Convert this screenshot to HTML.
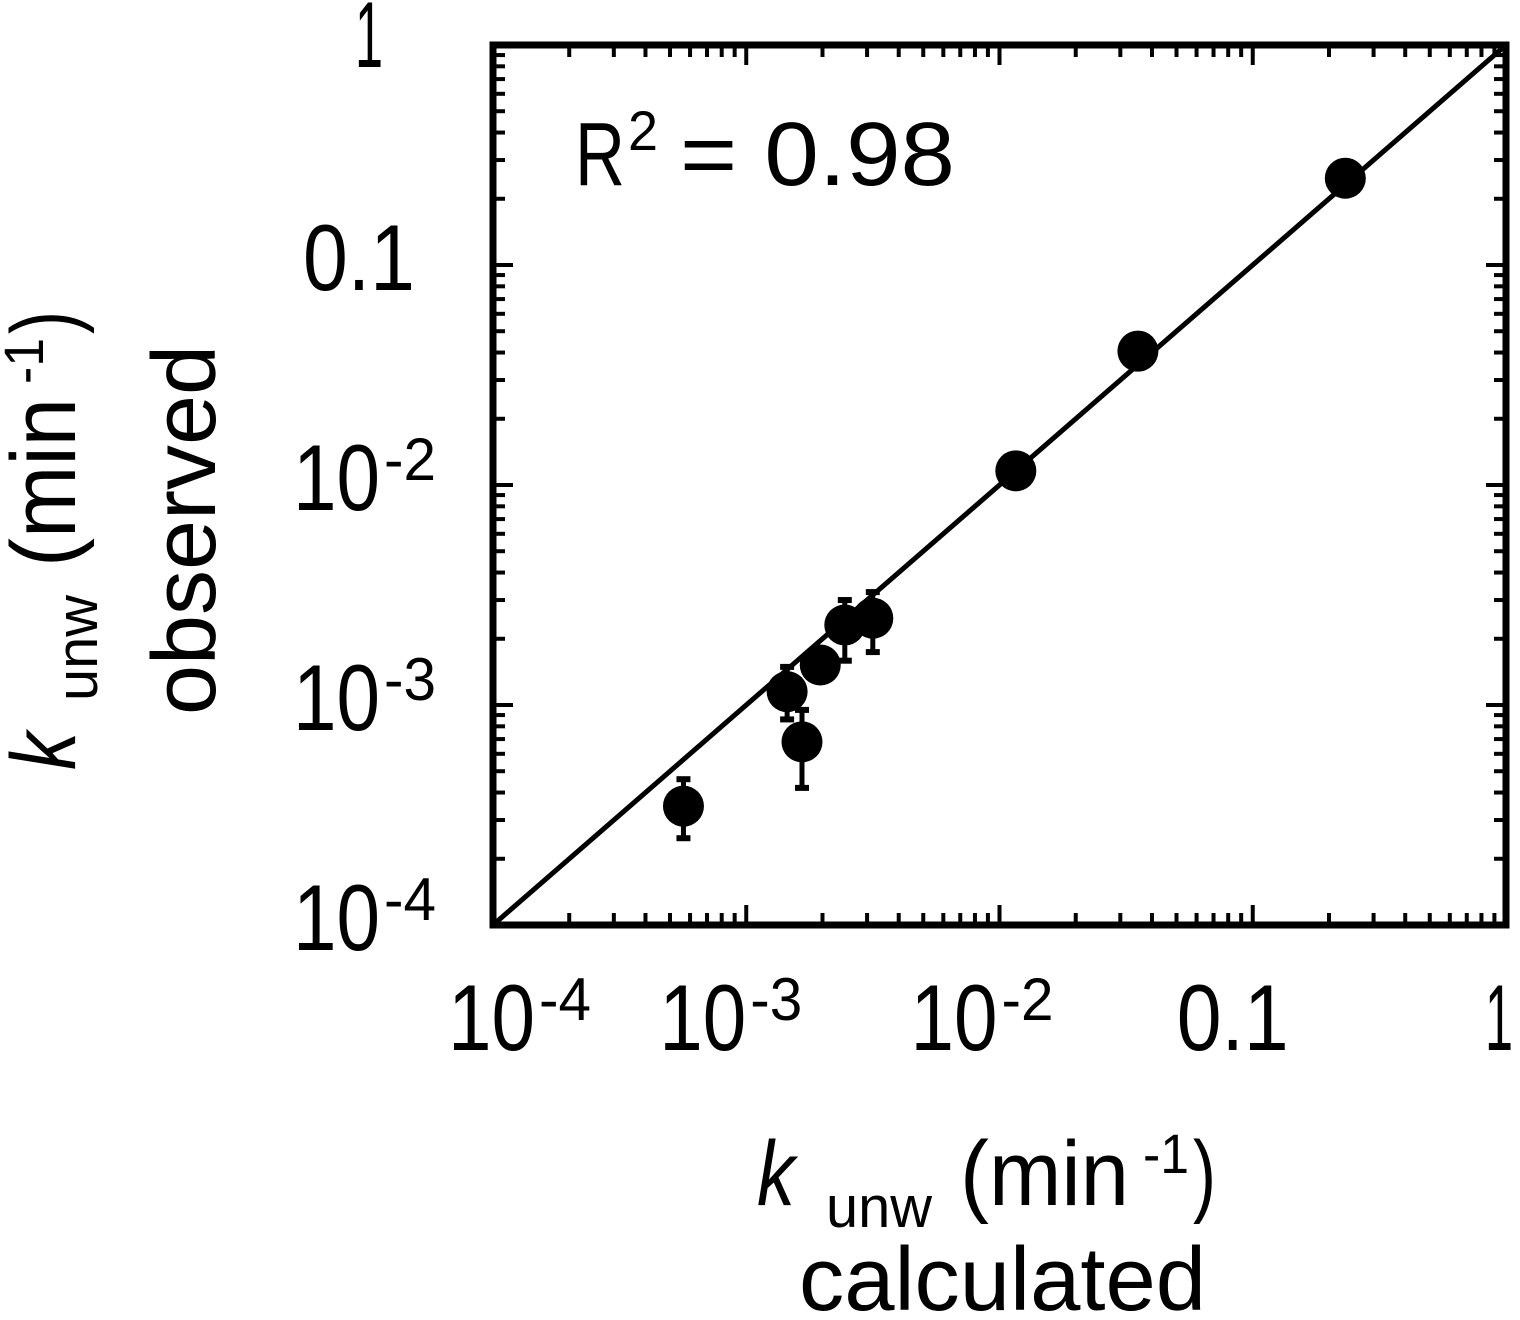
<!DOCTYPE html>
<html><head><meta charset="utf-8"><style>
html,body{margin:0;padding:0;background:#fff;}
svg{display:block;font-family:"Liberation Sans",Arial,sans-serif;}
</style></head><body>
<svg id="chart" width="1520" height="1320" viewBox="0 0 1520 1320" xmlns="http://www.w3.org/2000/svg">
<g id="ticks"></g>
<g id="labels"></g>
<line id="fit" stroke="#000" stroke-width="5"/>
<g id="points"></g>
<rect x="493" y="45" width="1013" height="880" fill="none" stroke="#000" stroke-width="7"/>
<g font-size="90">
<text x="575" y="185" textLength="50" lengthAdjust="spacingAndGlyphs">R</text>
<text x="628" y="150" font-size="56" textLength="30" lengthAdjust="spacingAndGlyphs">2</text>
<text x="680" y="185" textLength="275" lengthAdjust="spacingAndGlyphs">= 0.98</text>
</g>
<g>
<g transform="translate(757,1205)">
<text x="0" y="0" font-size="92" font-style="italic" textLength="38" lengthAdjust="spacingAndGlyphs">k</text>
<text x="69" y="22" font-size="58" textLength="106" lengthAdjust="spacingAndGlyphs">unw</text>
<text x="203" y="0" font-size="92" textLength="169" lengthAdjust="spacingAndGlyphs">(min</text>
<text x="386" y="-32" font-size="56" textLength="46" lengthAdjust="spacingAndGlyphs">-1</text>
<text x="436" y="0" font-size="92" textLength="23" lengthAdjust="spacingAndGlyphs">)</text>
</g>
<text x="799" y="1310" font-size="90" textLength="407" lengthAdjust="spacingAndGlyphs">calculated</text>
</g>
<g>
<g transform="translate(75,770) rotate(-90)">
<text x="0" y="0" font-size="92" font-style="italic" textLength="38" lengthAdjust="spacingAndGlyphs">k</text>
<text x="69" y="22" font-size="58" textLength="106" lengthAdjust="spacingAndGlyphs">unw</text>
<text x="203" y="0" font-size="92" textLength="169" lengthAdjust="spacingAndGlyphs">(min</text>
<text x="386" y="-32" font-size="56" textLength="46" lengthAdjust="spacingAndGlyphs">-1</text>
<text x="436" y="0" font-size="92" textLength="23" lengthAdjust="spacingAndGlyphs">)</text>
</g>
<text transform="translate(215,715) rotate(-90)" font-size="90" textLength="370" lengthAdjust="spacingAndGlyphs">observed</text>
</g>
</svg>
<script>
const xCalc   = [5.65e-4, 1.66e-3, 1.45e-3, 1.96e-3, 2.45e-3, 3.16e-3, 0.0116, 0.0352, 0.232];
const yObs    = [3.47e-4, 6.8e-4, 1.15e-3, 1.52e-3, 2.31e-3, 2.48e-3, 0.0116, 0.0406, 0.248];
const yErrHi  = [4.6e-4, 9.5e-4, 1.49e-3, 1.75e-3, 3.0e-3, 3.26e-3, null, null, null];
const yErrLo  = [2.48e-4, 4.2e-4, 8.6e-4, 1.3e-3, 1.59e-3, 1.74e-3, null, null, null];
const decades = [-4, -3, -2, -1, 0];
const xTickLabels = [["10","-4"],["10","-3"],["10","-2"],["0.1",""],["1",""]];
const yTickLabels = [["10","-4"],["10","-3"],["10","-2"],["0.1",""],["1",""]];

const L=493,R=1506,T=45,B=925;
const xs=v=>L+(Math.log10(v)+4)/4*(R-L);
const ys=v=>B-(Math.log10(v)+4)/4*(B-T);
const NS="http://www.w3.org/2000/svg";
function mk(tag,parent,attrs){const e=document.createElementNS(NS,tag);for(const k in attrs)e.setAttribute(k,attrs[k]);parent.appendChild(e);return e;}

const tg=document.getElementById('ticks');
for(let d=-4;d<0;d++){for(let m=1;m<=9;m++){
  const v=m*Math.pow(10,d);const len=m===1?20:12;
  const x=xs(v),y=ys(v);
  let t=mk('line',tg,{x1:x,x2:x,y1:B,y2:B-len,stroke:'#000','stroke-width':4});
  
  
  t=mk('line',tg,{x1:x,x2:x,y1:T,y2:T+len,stroke:'#000','stroke-width':4});
  
  
  t=mk('line',tg,{x1:L,x2:L+len,y1:y,y2:y,stroke:'#000','stroke-width':4});
  
  
  t=mk('line',tg,{x1:R,x2:R-len,y1:y,y2:y,stroke:'#000','stroke-width':4});
  
  
}}

const lg=document.getElementById('labels');
// draws a label starting at x0 with baseline y0 (condensed glyphs like the reference)
function lbl(parent,x0,y0,pair){
  const g=mk('g',parent,{});
  const main=mk('text',g,{x:x0,y:y0,'font-size':94,lengthAdjust:'spacingAndGlyphs'});
  main.textContent=pair[0];
  const w = pair[0]==="10"?87:(pair[0]==="0.1"?112:28);
  main.setAttribute('textLength',w);
  if(pair[1]){
    const s=mk('text',g,{x:x0+w+4,y:y0-30,'font-size':60,textLength:52,lengthAdjust:'spacingAndGlyphs'});
    s.textContent=pair[1];
  }
  return g;
}
const xLabelOffsets=[-45,-87,-89,-76,-21];
decades.forEach((d,i)=>{
  const v=Math.pow(10,d);
  let t=lbl(lg,xs(v)+xLabelOffsets[i],1050,xTickLabels[i]);
  
  
  const p=yTickLabels[i];
  const x0 = p[0]==="10"?293:(p[0]==="0.1"?303:355);
  const yb = d===-4?950:(d===0?67:ys(v)+25);
  t=lbl(lg,x0,yb,p);
  
  
});

const f=document.getElementById('fit');
f.setAttribute('x1',xs(1e-4));f.setAttribute('y1',ys(1e-4));
f.setAttribute('x2',xs(1));f.setAttribute('y2',ys(1));

const pg=document.getElementById('points');
xCalc.forEach((xv,i)=>{
  const cx=xs(xv),cy=ys(yObs[i]);
  if(yErrHi[i]!==null){
    const y1=ys(yErrHi[i]),y2=ys(yErrLo[i]);
    const e=mk('g',pg,{});
    
    
    mk('line',e,{x1:cx,x2:cx,y1:y1,y2:y2,stroke:'#000','stroke-width':5});
    mk('line',e,{x1:cx-7,x2:cx+7,y1:y1,y2:y1,stroke:'#000','stroke-width':6});
    mk('line',e,{x1:cx-7,x2:cx+7,y1:y2,y2:y2,stroke:'#000','stroke-width':6});
  }
  const c=mk('circle',pg,{cx:cx,cy:cy,r:20.5,fill:'#000'});
  
  
});
</script>
</body></html>
